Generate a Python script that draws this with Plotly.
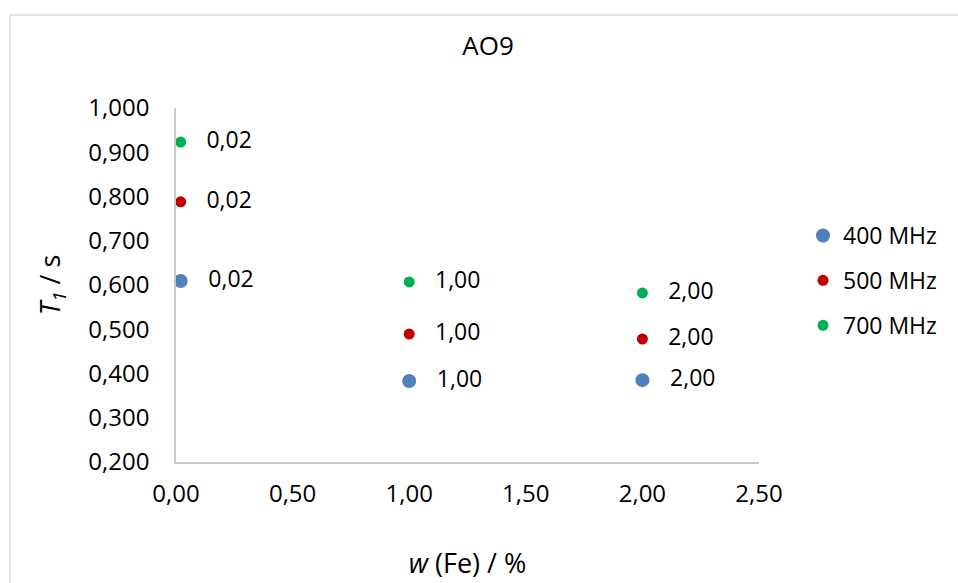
import plotly.graph_objects as go

# Data
series_names = ["400 MHz", "500 MHz", "700 MHz"]
w_fe = [0.02, 1.00, 2.00]
t1_400 = [0.609, 0.383, 0.385]
t1_500 = [0.788, 0.489, 0.478]
t1_700 = [0.923, 0.607, 0.582]
colors = ["#4f81bd", "#c00000", "#00b050"]
marker_sizes = [14, 11, 11]
x_ticks = [0.0, 0.5, 1.0, 1.5, 2.0, 2.5]
y_ticks = [0.2, 0.3, 0.4, 0.5, 0.6, 0.7, 0.8, 0.9, 1.0]

FONT = "Open Sans, Liberation Sans, sans-serif"

def fmt(v, d):
    return f"{v:.{d}f}".replace(".", ",")

fig = go.Figure()
for name, ys, c, s in zip(series_names, [t1_400, t1_500, t1_700], colors, marker_sizes):
    fig.add_trace(go.Scatter(
        x=w_fe, y=ys, name=name, mode="markers+text",
        marker=dict(color=c, size=s),
        text=["   " + fmt(v, 2) for v in w_fe],
        textposition="middle right",
        textfont=dict(family=FONT, size=23, color="#000000"),
        legendgroup=name,
        cliponaxis=False,
    ))

W, H = 958, 583
L, R, T, B = 176, W - 759, 108, H - 462
pw, ph = W - L - R, H - T - B

def px_x(p):
    return (p - L) / pw

def px_y(p):
    return (H - B - p) / ph

fig.update_layout(
    width=W, height=H,
    margin=dict(l=L, r=R, t=T, b=B, autoexpand=False),
    paper_bgcolor="white", plot_bgcolor="white",
    font=dict(family=FONT, size=23, color="#000000"),
    title=dict(text="AO9", x=488 / W, xref="container", xanchor="center",
               y=1 - 46 / H, yref="container", yanchor="middle",
               font=dict(family=FONT, size=26, color="#000000")),
    xaxis=dict(range=[0, 2.5], tickvals=x_ticks,
               ticktext=[fmt(v, 2) for v in x_ticks],
               showgrid=False, zeroline=False, showline=True,
               linecolor="#c8c8c8", linewidth=1.5, ticks="",
               ticklabelstandoff=9, automargin=False,
               tickfont=dict(family=FONT, size=24),
               title=dict(text="<i>w</i> (Fe) / %", standoff=47,
                          font=dict(family=FONT, size=27))),
    yaxis=dict(range=[0.2, 1.0], tickvals=y_ticks,
               ticktext=[fmt(v, 3) for v in y_ticks],
               showgrid=False, zeroline=False, showline=True,
               linecolor="#c8c8c8", linewidth=1.5, ticks="",
               ticklabelstandoff=20, automargin=False,
               tickfont=dict(family=FONT, size=24),
               title=dict(text="<i>T<sub>1</sub></i> / s", standoff=20,
                          font=dict(family=FONT, size=27))),
    legend=dict(x=803 / W, y=1 - 214 / H,
                xanchor="left", yanchor="top",
                xref="container", yref="container",
                font=dict(family=FONT, size=23),
                tracegroupgap=12, itemwidth=30,
                bgcolor="rgba(0,0,0,0)"),
    shapes=[
        dict(type="line", xref="paper", yref="paper",
             x0=px_x(10), x1=px_x(990), y0=px_y(15), y1=px_y(15),
             line=dict(color="#d9d9d9", width=1.5), layer="below"),
        dict(type="line", xref="paper", yref="paper",
             x0=px_x(10), x1=px_x(10), y0=px_y(15), y1=px_y(620),
             line=dict(color="#d9d9d9", width=1.5), layer="below"),
    ],
)

fig.write_html(
    "out.html",
    config={"displayModeBar": False},
    post_script="document.body.style.margin='0';document.body.style.overflow='hidden';",
)
